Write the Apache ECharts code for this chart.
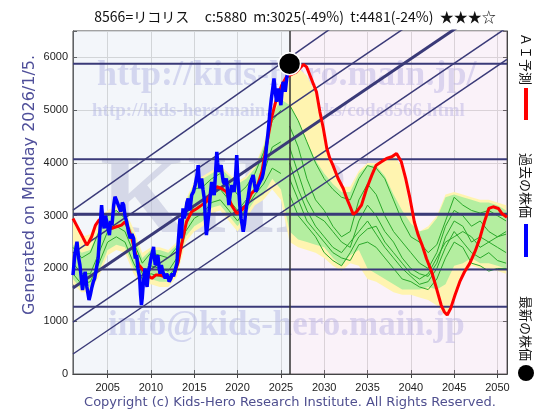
<!DOCTYPE html>
<html><head><meta charset="utf-8">
<script src="https://cdn.jsdelivr.net/npm/echarts@6/dist/echarts.min.js"></script>
<style>html,body{margin:0;padding:0;background:#fff}#c{width:560px;height:420px}</style>
</head><body><div id="c"></div>
<script>
// ---------- data ----------
const titleText = '8566=リコリス     c:5880  m:3025(-49%)  t:4481(-24%)  ★★★☆';
const xTickYears = [2005, 2010, 2015, 2020, 2025, 2030, 2035, 2040, 2045, 2050];
const latestPoint = [2026.0, 5880];
const levelLines = [5880, 4070, 3025, 1980, 1275];
const levelWidths = [2, 2, 3, 2, 2];
// regression channel: [value at 2001, value at 2051.1]
const channelStart = [3106, 2292, 1629, 985, 379];
const channelEnd = [8900, 7873, 7210, 6566, 5960];
const channelWidths = [1.5, 1.5, 3, 1.5, 1.5];

const pastPrice = [[2001.0,1875],[2001.2,2250],[2001.46,2506],[2001.65,2200],[2001.8,2064],[2002.0,1750],[2002.1,1591],[2002.25,1800],[2002.4,1938],[2002.6,1650],[2002.85,1401],[2003.0,1500],[2003.15,1622],[2003.35,1750],[2003.5,1812],[2003.7,2000],[2003.9,2190],[2004.1,2700],[2004.3,3200],[2004.45,2900],[2004.6,2759],[2004.75,3000],[2004.9,2885],[2005.05,2750],[2005.2,2633],[2005.35,2900],[2005.5,2822],[2005.7,3200],[2005.85,3358],[2006.0,3300],[2006.2,3327],[2006.35,3150],[2006.5,3075],[2006.7,3250],[2006.85,3200],[2007.0,3000],[2007.2,2885],[2007.4,2700],[2007.6,2569],[2007.8,2650],[2008.0,2569],[2008.1,2300],[2008.2,2190],[2008.35,2250],[2008.5,2000],[2008.7,1812],[2008.8,1500],[2008.9,1307],[2009.0,1450],[2009.1,1686],[2009.2,1850],[2009.3,2001],[2009.45,1750],[2009.55,1650],[2009.7,1938],[2009.85,2050],[2010.0,2190],[2010.15,2300],[2010.3,2411],[2010.4,2200],[2010.5,2064],[2010.65,2150],[2010.8,2254],[2010.95,2000],[2011.05,1900],[2011.2,2064],[2011.35,1950],[2011.5,1875],[2011.65,1812],[2011.8,1900],[2011.95,1850],[2012.1,1750],[2012.3,1812],[2012.45,1906],[2012.6,1850],[2012.8,1875],[2013.0,2100],[2013.15,2506],[2013.35,2948],[2013.5,2569],[2013.7,3137],[2013.85,2950],[2014.0,3075],[2014.15,3250],[2014.3,3327],[2014.5,3100],[2014.7,3390],[2014.9,3450],[2015.1,3579],[2015.3,3750],[2015.45,3958],[2015.55,3700],[2015.65,3516],[2015.85,3706],[2016.0,3500],[2016.15,3327],[2016.3,2900],[2016.4,2633],[2016.55,2850],[2016.7,3075],[2016.85,3400],[2017.0,3642],[2017.15,3500],[2017.3,3390],[2017.45,3800],[2017.6,4211],[2017.7,4000],[2017.8,3832],[2017.95,3900],[2018.1,3958],[2018.25,3750],[2018.35,3642],[2018.5,3600],[2018.7,3706],[2018.85,3450],[2019.0,3200],[2019.15,3400],[2019.3,3579],[2019.45,3500],[2019.6,3453],[2019.75,3700],[2019.9,4148],[2020.0,3800],[2020.1,3579],[2020.25,3200],[2020.4,2948],[2020.55,2800],[2020.65,2696],[2020.8,2850],[2020.9,3011],[2021.05,3200],[2021.2,3327],[2021.35,3500],[2021.5,3642],[2021.65,3700],[2021.8,3769],[2021.95,3600],[2022.1,3453],[2022.25,3500],[2022.4,3579],[2022.6,3650],[2022.8,3706],[2022.95,3800],[2023.1,3958],[2023.25,4150],[2023.35,4337],[2023.5,4550],[2023.6,4716],[2023.75,5000],[2023.9,5221],[2024.05,5400],[2024.2,5600],[2024.35,5350],[2024.5,5158],[2024.6,5300],[2024.7,5410],[2024.85,5250],[2025.0,5095],[2025.1,5300],[2025.25,5537],[2025.4,5450],[2025.5,5347],[2025.6,5500],[2025.75,5694],[2025.9,5750],[2026.0,5880]];

const aiForecast = [[2001.0,2948],[2001.4,2822],[2001.8,2696],[2002.2,2569],[2002.6,2443],[2002.85,2506],[2003.15,2601],[2003.6,2822],[2004.0,2917],[2004.4,2948],[2004.9,2822],[2005.5,2759],[2006.0,2790],[2006.6,2822],[2007.0,2885],[2007.4,2759],[2007.8,2569],[2008.15,2317],[2008.6,2064],[2009.1,1970],[2009.6,1875],[2010.1,1812],[2010.55,1875],[2011.05,1875],[2011.6,1843],[2012.2,1812],[2012.7,1906],[2013.15,2127],[2013.6,2506],[2014.1,2885],[2014.7,3075],[2015.3,3137],[2015.85,3200],[2016.4,3264],[2017.0,3453],[2017.6,3548],[2018.15,3516],[2018.7,3453],[2019.3,3200],[2019.9,3043],[2020.5,3106],[2021.0,3200],[2021.6,3422],[2022.2,3516],[2022.8,3832],[2023.35,4337],[2023.9,4842],[2024.5,5221],[2025.1,5474],[2025.65,5631],[2026.04,5663],[2026.8,5726],[2027.6,5865],[2027.96,5821],[2028.5,5600],[2029.1,5347],[2029.5,4968],[2029.9,4653],[2030.3,4274],[2030.65,4085],[2031.0,3958],[2031.6,3706],[2032.2,3516],[2032.6,3327],[2033.0,3169],[2033.35,3024],[2033.75,3075],[2034.3,3200],[2034.9,3516],[2035.5,3769],[2036.0,3958],[2036.6,4021],[2037.2,4085],[2037.8,4116],[2038.35,4179],[2038.9,4021],[2039.4,3706],[2039.9,3327],[2040.4,2885],[2040.85,2633],[2041.3,2443],[2041.8,2190],[2042.4,1938],[2042.96,1622],[2043.5,1307],[2043.85,1181],[2044.2,1117],[2044.6,1244],[2045.1,1496],[2045.65,1749],[2046.2,1938],[2046.8,2096],[2047.4,2317],[2047.96,2569],[2048.5,2885],[2049.0,3137],[2049.5,3169],[2050.1,3137],[2050.5,3043],[2051.1,2970]];

const bandYears = [2001,2002,2003,2004,2005,2006,2007,2008,2009,2010,2011,2012,2013,2014,2015,2016,2017,2018,2019,2020,2021,2022,2023,2024,2025,2026,2027,2028,2029,2030,2031,2032,2033,2034,2035,2036,2037,2038,2039,2040,2041,2042,2043,2044,2045,2046,2047,2048,2049,2050,2051];
const outerLow  = [1700,1550,1550,1850,2250,2350,2300,1900,1650,1700,1650,1650,1850,2500,2700,2800,3050,3100,2900,2700,2950,3200,3300,3500,3300,2500,2400,2350,2300,2200,2050,1950,2100,2050,1800,1750,1650,1550,1500,1500,1450,1400,1300,1100,1450,1850,2050,2000,2000,1950,1900];
const outerHigh = [2950,2600,2650,2950,3100,3200,3100,2750,2300,2400,2400,2350,2500,3300,3650,3750,3850,3950,3800,3650,3750,3950,4350,5000,5500,5700,5800,5650,5300,4500,3900,3550,3550,3850,4000,4000,4100,4170,3900,3050,2700,2800,3000,3400,3450,3400,3350,3300,3300,3250,3200];
const innerLow  = [1800,1600,1650,1950,2350,2450,2400,2000,1750,1800,1750,1750,1950,2600,2800,2900,3150,3200,3000,2800,3050,3300,3400,3700,3500,2700,2550,2500,2450,2400,2200,2050,2250,2350,2000,1900,1800,1700,1600,1600,1600,1650,1600,1700,2050,2100,2200,2100,2100,2050,2000];
const innerHigh = [2450,2300,2350,2750,3000,3100,3000,2650,2200,2350,2350,2300,2450,3250,3600,3700,3800,3900,3750,3600,3700,3900,4300,4900,5200,5100,4800,4400,4050,3800,3600,3450,3450,3800,3950,3950,3750,3400,3100,2850,2700,2750,2950,3350,3400,3350,3300,3250,3250,3200,3100];

const pastPathYears = [2001,2002,2003,2004,2005,2006,2007,2008,2009,2010,2011,2012,2013,2014,2015,2016,2017,2018,2019,2020,2021,2022,2023,2024,2025];
const pastPathA = [2400,2200,2300,2700,3000,3100,2950,2500,2100,2300,2250,2200,2400,3100,3500,3550,3700,3800,3600,3400,3550,3800,4200,4800,5000];
const pastPathB = [2100,1900,1900,2300,2700,2800,2700,2300,1900,2050,2000,1950,2200,2800,3200,3300,3400,3500,3300,3100,3300,3500,3800,4300,4400];
const pastPathC = [1900,1700,1750,2100,2500,2600,2500,2100,1800,1900,1850,1850,2050,2700,2950,3050,3250,3300,3100,2900,3150,3400,3600,3900,3800];

const futurePathYears = [2026,2027,2028,2029,2030,2031,2032,2033,2034,2035,2036,2037,2038,2039,2040,2041,2042,2043,2044,2045,2046,2047,2048,2049,2050,2051];
const futurePath1 = [5100,4800,4400,4000,3700,3500,3350,3300,3700,3950,3900,3700,3300,2900,2600,2500,2300,2450,2900,3350,3200,3100,3050,3100,3000,2900];
const futurePath2 = [4700,4300,3700,3300,3100,2800,2600,2700,3300,3600,3400,3000,2700,2500,2300,2100,2000,2300,2800,3100,3000,2800,2900,2700,2600,2650];
const futurePath3 = [4300,3800,3300,3000,2900,2700,2500,2400,2900,3200,3000,2700,2500,2200,2000,1900,1850,2100,2600,2900,2800,2500,2600,2500,2400,2300];
const futurePath4 = [4000,3500,3100,2800,2600,2400,2300,2500,2700,2900,2650,2400,2200,2000,1850,1700,1750,2000,2400,2700,2500,2300,2200,2300,2150,2100];
const futurePath5 = [3700,3300,2900,2700,2500,2300,2200,2150,2450,2500,2400,2200,2000,1800,1750,1650,1600,1800,2200,2500,2400,2100,2050,1950,2000,2000];
const futurePath6 = [3400,3000,2800,2600,2300,2150,2050,2300,2600,2750,2800,2500,2300,2100,1900,1800,1900,2200,2500,2600,2700,2600,2400,2500,2600,2700];

// ---------- chart ----------
const X_MIN = 2001, X_MAX = 2051.1;
const NAVY = '#3a3a78';
const zip = (xs, ys) => xs.map((x, i) => [x, ys[i]]);

function bandSeries(low, high, color) {
  return {
    type: 'custom', silent: true, z: 2, clip: true,
    data: bandYears.map((y, i) => [y, low[i], high[i]]),
    renderItem: function (params, api) {
      if (params.dataIndex !== 0) return null;
      const pts = [];
      for (let i = 0; i < bandYears.length; i++) pts.push(api.coord([bandYears[i], high[i]]));
      for (let i = bandYears.length - 1; i >= 0; i--) pts.push(api.coord([bandYears[i], low[i]]));
      return { type: 'polygon', shape: { points: pts }, style: { fill: color } };
    }
  };
}

const series = [];
series.push({
  type: 'line', data: [], z: 0, silent: true,
  markArea: { silent: true, data: [
    [{ xAxis: X_MIN, itemStyle: { color: 'rgba(205,220,235,0.2)' } }, { xAxis: latestPoint[0] }],
    [{ xAxis: latestPoint[0], itemStyle: { color: 'rgba(240,205,232,0.22)' } }, { xAxis: X_MAX }]
  ]}
});
series.push(bandSeries(outerLow, outerHigh, '#fff4b0'));
series.push(bandSeries(innerLow, innerHigh, '#b4eea0'));
[pastPathA, pastPathB, pastPathC].forEach(p => series.push({ type: 'line', data: zip(pastPathYears, p), symbol: 'none', lineStyle: { color: '#2aa82a', width: 1 }, silent: true, z: 3 }));
[futurePath1, futurePath2, futurePath3, futurePath4, futurePath5, futurePath6].forEach(p => series.push({ type: 'line', data: zip(futurePathYears, p), symbol: 'none', lineStyle: { color: '#2aa82a', width: 1 }, silent: true, z: 3 }));
levelLines.forEach((v, i) => series.push({ type: 'line', data: [[X_MIN, v], [X_MAX, v]], symbol: 'none', lineStyle: { color: NAVY, width: levelWidths[i] }, silent: true, z: 4 }));
channelStart.forEach((v, i) => series.push({ type: 'line', data: [[X_MIN, v], [X_MAX, channelEnd[i]]], symbol: 'none', clip: true, lineStyle: { color: NAVY, width: channelWidths[i] }, silent: true, z: 4 }));
series.push({ type: 'line', data: [], z: 4, markLine: { silent: true, symbol: 'none', label: { show: false }, lineStyle: { color: '#333', width: 1.5, type: 'solid' }, data: [{ xAxis: latestPoint[0] }] } });
series.push({ type: 'line', data: aiForecast, symbol: 'none', lineStyle: { color: '#ff0000', width: 3 }, silent: true, z: 5 });
series.push({ type: 'line', data: pastPrice, symbol: 'none', lineStyle: { color: '#0000ff', width: 3.5 }, silent: true, z: 6 });
series.push({ type: 'scatter', data: [latestPoint], symbolSize: 22, itemStyle: { color: '#000', opacity: 1, borderColor: '#fff', borderWidth: 1.5 }, silent: true, z: 10 });

const wmSerif = '"Liberation Serif", "DejaVu Serif", serif';
const axisFont = '"Liberation Sans", Arial, sans-serif';
const chart = echarts.init(document.getElementById('c'), null, { renderer: 'canvas' });
chart.setOption({
  animation: false,
  backgroundColor: '#fff',
  grid: { left: 73, right: 53, top: 31, bottom: 46, show: true, backgroundColor: '#fdfdfe', borderColor: '#444', borderWidth: 1 },
  xAxis: [{
    type: 'value', min: X_MIN, max: X_MAX, position: 'bottom',
    axisLine: { show: true, lineStyle: { color: '#444' } },
    axisTick: { show: true, inside: true, length: 4, customValues: xTickYears, lineStyle: { color: '#444' } },
    axisLabel: { customValues: xTickYears, formatter: v => String(v), color: '#222', fontSize: 11, fontFamily: axisFont, margin: 8 },
    splitLine: { show: true, lineStyle: { color: '#d4d4d4', width: 1 } }
  }, {
    type: 'value', min: X_MIN, max: X_MAX, position: 'top',
    axisLine: { show: true, lineStyle: { color: '#444' } },
    axisTick: { show: true, inside: true, length: 4, customValues: xTickYears, lineStyle: { color: '#444' } },
    axisLabel: { show: false }, splitLine: { show: false }
  }],
  yAxis: [{
    type: 'value', min: 0, max: 6500, interval: 1000, position: 'left',
    axisLine: { show: true, lineStyle: { color: '#444' } },
    axisTick: { show: true, inside: true, length: 4, lineStyle: { color: '#444' } },
    axisLabel: { formatter: v => (v % 1000 === 0 ? String(v) : ''), color: '#222', fontSize: 11, fontFamily: axisFont, margin: 5 },
    splitLine: { show: true, lineStyle: { color: '#d4d4d4', width: 1 } }
  }, {
    type: 'value', min: 0, max: 6500, interval: 1000, position: 'right',
    axisLine: { show: true, lineStyle: { color: '#444' } },
    axisTick: { show: true, inside: true, length: 4, lineStyle: { color: '#444' } },
    axisLabel: { show: false }, splitLine: { show: false }
  }],
  graphic: [
    { type: 'text', z: 1, x: 100, y: 203, style: { text: 'KHRI', font: 'bold 112px ' + wmSerif, fill: 'rgba(180,180,210,0.5)', verticalAlign: 'middle' } },
    { type: 'text', z: 1, x: 97, y: 76, style: { text: 'http://kids-hero.main.jp/', font: 'bold 36px ' + wmSerif, fill: 'rgba(165,165,225,0.45)', verticalAlign: 'middle' } },
    { type: 'text', z: 1, x: 92, y: 111, style: { text: 'http://kids-hero.main.jp/stocks/code8566.html', font: 'bold 19px ' + wmSerif, fill: 'rgba(165,165,225,0.45)', verticalAlign: 'middle' } },
    { type: 'text', z: 1, x: 108, y: 326, style: { text: 'info@kids-hero.main.jp', font: 'bold 35px ' + wmSerif, fill: 'rgba(165,165,225,0.45)', verticalAlign: 'middle' } },
    { type: 'text', x: 295, y: 17, style: { text: titleText, font: '14px "Noto Sans CJK JP", sans-serif', fill: '#111', align: 'center', verticalAlign: 'middle' } },
    { type: 'text', x: 30, y: 185, rotation: Math.PI / 2, style: { text: 'Generated on Monday 2026/1/5.', font: '16px "DejaVu Sans", sans-serif', fill: '#4f4f9a', align: 'center', verticalAlign: 'middle' } },
    { type: 'text', x: 290, y: 403, style: { text: 'Copyright (c) Kids-Hero Research Institute. All Rights Reserved.', font: '13px "DejaVu Sans", sans-serif', fill: '#4f4f8f', align: 'center', verticalAlign: 'middle' } },
    { type: 'text', x: 526, y: 33, rotation: -Math.PI / 2, style: { text: 'ＡＩ予測', font: '13px "Noto Sans CJK JP", sans-serif', fill: '#111', align: 'left', verticalAlign: 'middle' } },
    { type: 'rect', shape: { x: 524, y: 88, width: 4, height: 32 }, style: { fill: '#ff0000' } },
    { type: 'text', x: 526, y: 153, rotation: -Math.PI / 2, style: { text: '過去の株価', font: '13px "Noto Sans CJK JP", sans-serif', fill: '#111', align: 'left', verticalAlign: 'middle' } },
    { type: 'rect', shape: { x: 524, y: 224, width: 4, height: 33 }, style: { fill: '#0000ff' } },
    { type: 'text', x: 526, y: 296, rotation: -Math.PI / 2, style: { text: '最新の株価', font: '13px "Noto Sans CJK JP", sans-serif', fill: '#111', align: 'left', verticalAlign: 'middle' } },
    { type: 'circle', shape: { cx: 526, cy: 373, r: 8 }, style: { fill: '#000' } }
  ],
  series: series
});
</script></body></html>
